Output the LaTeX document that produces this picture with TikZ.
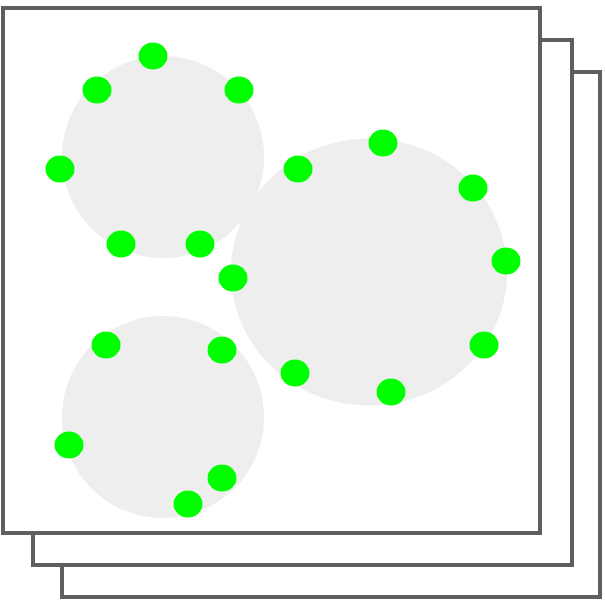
\documentclass[tikz,border=0pt]{standalone}
\usetikzlibrary{shapes.geometric}

\definecolor{sheetline}{HTML}{5F5F5F}
\definecolor{blobgray}{HTML}{EEEEEE}
\definecolor{dotgreen}{HTML}{00FF00}

\begin{document}
\begin{tikzpicture}[
    x = 0.02cm, y = -0.02cm,
    sheet/.style = {
        draw = sheetline, line width = 2.2pt, fill = white
    },
    blob/.style = {
        circle, fill = blobgray, draw = none,
        minimum size = 4.04cm, inner sep = 0pt
    },
    bigblob/.style = {
        ellipse, fill = blobgray, draw = none,
        minimum width = 5.52cm, minimum height = 5.34cm, inner sep = 0pt
    },
    dot/.style = {
        ellipse, fill = dotgreen, draw = none,
        minimum width = 0.58cm, minimum height = 0.54cm, inner sep = 0pt
    }
]

\useasboundingbox (0, 0) rectangle (605, 606);

% --- Stacked sheets (back to front) ---
\draw[sheet] (62, 72) rectangle (600, 597);
\draw[sheet] (33, 40) rectangle (572, 565);
\draw[sheet] ( 3,  8) rectangle (540, 533);

% --- Gray groups ---
\node[blob]    (topgroup)  at (163, 157) {};
\node[bigblob] (biggroup)  at (369, 272) {};
\node[blob]    (lowgroup)  at (163, 417) {};

% --- Points of the top group ---
\node[dot] (t1) at (153,  56) {};
\node[dot] (t2) at ( 97,  90) {};
\node[dot] (t3) at (239,  90) {};
\node[dot] (t4) at ( 60, 169) {};
\node[dot] (t5) at (121, 244) {};
\node[dot] (t6) at (200, 244) {};

% --- Points of the big group ---
\node[dot] (b1) at (298, 169) {};
\node[dot] (b2) at (383, 143) {};
\node[dot] (b3) at (473, 188) {};
\node[dot] (b4) at (506, 261) {};
\node[dot] (b5) at (233, 278) {};
\node[dot] (b6) at (484, 345) {};
\node[dot] (b7) at (295, 373) {};
\node[dot] (b8) at (391, 392) {};

% --- Points of the lower group ---
\node[dot] (l1) at (106, 345) {};
\node[dot] (l2) at (222, 350) {};
\node[dot] (l3) at ( 69, 445) {};
\node[dot] (l4) at (222, 478) {};
\node[dot] (l5) at (188, 504) {};

\end{tikzpicture}
\end{document}
